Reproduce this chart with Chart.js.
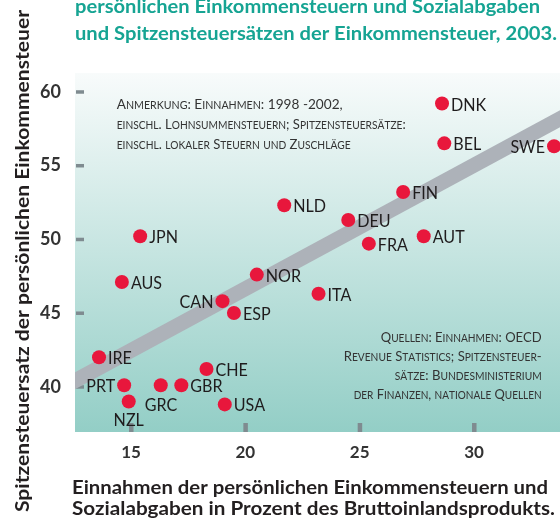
<!DOCTYPE html>
<html><head><meta charset="utf-8">
<style>html,body{margin:0;padding:0;background:#fff}#wrap{width:560px;height:524px;position:relative;overflow:hidden}</style>
<script src="https://cdn.jsdelivr.net/npm/chart.js@4/dist/chart.umd.min.js"></script>
</head><body><div id="wrap"><canvas id="c" width="560" height="524"></canvas></div>
<script>
// ---- data ----
const countries = ['DNK','BEL','SWE','FIN','DEU','FRA','AUT','NLD','JPN','AUS','NOR','CAN','ESP','ITA','IRE','CHE','PRT','GRC','GBR','NZL','USA'];
const incomeTaxRevenue = [28.6,28.7,33.5,26.9,24.5,25.4,27.8,21.7,15.4,14.6,20.5,19.0,19.5,23.2,13.6,18.3,14.7,16.3,17.2,14.9,19.1];
const topTaxRate = [59.2,56.5,56.3,53.2,51.3,49.7,50.2,52.3,50.2,47.1,47.6,45.8,45.0,46.3,42.0,41.2,40.1,40.1,40.1,39.0,38.8];
const trendX = [12.0, 34.5];
const trendY = [39.95, 58.79];
const xTicks = [15,20,25,30];
const yTicks = [40,45,50,55,60];
const labelPos = ['r','r','l','r','r','r','r','r','r','r','r','l','r','r','r','r','l','br','r','b','r'];

const titleLines = ['persönlichen Einkommensteuern und Sozialabgaben','und Spitzensteuersätzen der Einkommensteuer, 2003.'];
const xTitleLines = ['Einnahmen der persönlichen Einkommensteuern und','Sozialabgaben in Prozent des Bruttoinlandsprodukts.'];
const yTitle = 'Spitzensteuersatz der persönlichen Einkommensteuer';
const noteLines = ['Anmerkung: Einnahmen: 1998 -2002,','einschl. Lohnsummensteuern; Spitzensteuersätze:','einschl. lokaler Steuern und Zuschläge'];
const sourceLines = ['Quellen: Einnahmen: OECD','Revenue Statistics; Spitzensteuer-','sätze: Bundesministerium','der Finanzen, nationale Quellen'];

const points = countries.map((c,i)=>({x:incomeTaxRevenue[i], y:topTaxRate[i]}));
const trend = trendX.map((v,i)=>({x:v, y:trendY[i]}));

function fitText(ctx, text, x, y, width, align){
  const w = ctx.measureText(text).width;
  const s = width / w;
  ctx.save();
  ctx.translate(x, y);
  ctx.scale(s, 1);
  ctx.textAlign = 'left';
  ctx.fillText(text, align==='right' ? -w : 0, 0);
  ctx.restore();
}
function smallCaps(ctx, text, x, y, size, width, align){
  const big = size+'px Lato', small = (size*0.78)+'px Lato';
  const segs = [];
  for (const ch of text){
    const up = ch.toUpperCase();
    const isLow = ch !== up;
    segs.push({t: isLow ? up : ch, f: isLow ? small : big});
  }
  let total = 0;
  segs.forEach(s=>{ctx.font=s.f; s.w=ctx.measureText(s.t).width; total+=s.w;});
  const sc = width/total;
  ctx.save();
  ctx.translate(align==='right' ? x-width : x, y);
  ctx.scale(sc,1);
  ctx.textAlign='left'; ctx.textBaseline='alphabetic';
  let cx = 0;
  segs.forEach(s=>{ctx.font=s.f; ctx.fillText(s.t, cx, 0); cx+=s.w;});
  ctx.restore();
}

const areaPlugin = {
  id:'area',
  afterLayout(chart){
    const a = chart.chartArea, x = chart.scales.x;
    a.right = chart.width; a.width = a.right - a.left;
    x.left = a.left; x.right = a.right; x.width = a.width;
    x.configure();
  }
};

const bgPlugin = {
  id:'bg',
  beforeDatasetsDraw(chart){
    const {ctx, chartArea:a, scales} = chart;
    ctx.save();
    const g = ctx.createLinearGradient(0, a.top, 0, a.bottom);
    g.addColorStop(0, '#f8fbfb');
    g.addColorStop(1, '#93cec6');
    ctx.fillStyle = g;
    ctx.fillRect(a.left, a.top, a.right-a.left, a.bottom-a.top);
    ctx.fillStyle = '#7f8b90';
    yTicks.forEach(v=>{ const py = scales.y.getPixelForValue(v); ctx.fillRect(a.left+1, py-1.5, 8, 3.5); });
    xTicks.forEach(v=>{ const px = scales.x.getPixelForValue(v); ctx.fillRect(px-2, a.bottom-9, 4.5, 9); });
    ctx.restore();
  }
};

const labelPlugin = {
  id:'labels',
  afterDatasetsDraw(chart){
    const ctx = chart.ctx;
    const meta = chart.getDatasetMeta(0);
    ctx.save();
    ctx.fillStyle = '#1f1c1d';
    ctx.font = '17.5px Lato';
    ctx.textBaseline = 'alphabetic';
    meta.data.forEach((el,i)=>{
      const t = countries[i], p = labelPos[i];
      const w = ctx.measureText(t).width*0.92;
      let x = el.x, y = el.y + 7;
      if (p==='r'){ fitText(ctx,t,x+9,y,w); }
      else if (p==='l'){ fitText(ctx,t,x-9,y,w,'right'); }
      else if (p==='br'){ fitText(ctx,t,x-16,y+18.5,w); }
      else if (p==='b'){ fitText(ctx,t,x-w/2,y+17.5,w); }
    });
    // annotations
    ctx.fillStyle = '#333333';
    const noteW = [226,289,234], noteY = [109.3,129.3,148.5];
    noteLines.forEach((t,i)=>smallCaps(ctx,t,116.7,noteY[i],14,noteW[i]));
    const srcW = [161,198,147,188], srcY = [341.7,360.7,379.5,399];
    sourceLines.forEach((t,i)=>smallCaps(ctx,t,541.7,srcY[i],14,srcW[i],'right'));
    ctx.restore();
  }
};

const textPlugin = {
  id:'texts',
  afterDraw(chart){
    const ctx = chart.ctx;
    ctx.save();
    ctx.textBaseline = 'alphabetic';
    ctx.fillStyle = '#16a493';
    ctx.font = 'bold 18px Lato';
    fitText(ctx, titleLines[0], 75, 13, 465);
    fitText(ctx, titleLines[1], 75, 39.5, 482);
    ctx.fillStyle = '#231f20';
    ctx.font = 'bold 18.5px Lato';
    fitText(ctx, xTitleLines[0], 72, 493.5, 476);
    fitText(ctx, xTitleLines[1], 72, 515, 483);
    ctx.font = 'bold 19px Lato';
    ctx.translate(29, 512);
    ctx.rotate(-Math.PI/2);
    fitText(ctx, yTitle, 0, 0, 502);
    ctx.restore();
  }
};

new Chart(document.getElementById('c').getContext('2d'), {
  type:'scatter',
  data:{datasets:[
    {data:points, pointRadius:7, pointHoverRadius:7, backgroundColor:'#e8173c', borderWidth:0, pointBorderWidth:0},
    {type:'line', data:trend, borderColor:'#adb2b9', borderWidth:15, pointRadius:0, showLine:true, clip:0, borderCapStyle:'butt', fill:false}
  ]},
  options:{
    responsive:false, animation:false, events:[],
    plugins:{legend:{display:false}, tooltip:{enabled:false}, title:{display:false}},
    layout:{padding:{top:73,left:0,right:0,bottom:0}},
    scales:{
      x:{type:'linear', min:12.55, max:33.76,
        afterBuildTicks:s=>{s.ticks = xTicks.map(v=>({value:v}));},
        afterFit:s=>{s.height = 92;},
        grid:{display:false}, border:{display:false},
        ticks:{font:{family:'Lato',size:17,weight:'bold'}, color:'#333333', padding:2, maxRotation:0}
      },
      y:{type:'linear', min:36.93, max:61.27,
        afterBuildTicks:s=>{s.ticks = yTicks.map(v=>({value:v}));},
        afterFit:s=>{s.width = 75;},
        grid:{display:false}, border:{display:false},
        ticks:{font:{family:'Lato',size:18,weight:'bold'}, color:'#333333', padding:6}
      }
    }
  },
  plugins:[areaPlugin, bgPlugin, labelPlugin, textPlugin]
});
</script>
</body></html>
